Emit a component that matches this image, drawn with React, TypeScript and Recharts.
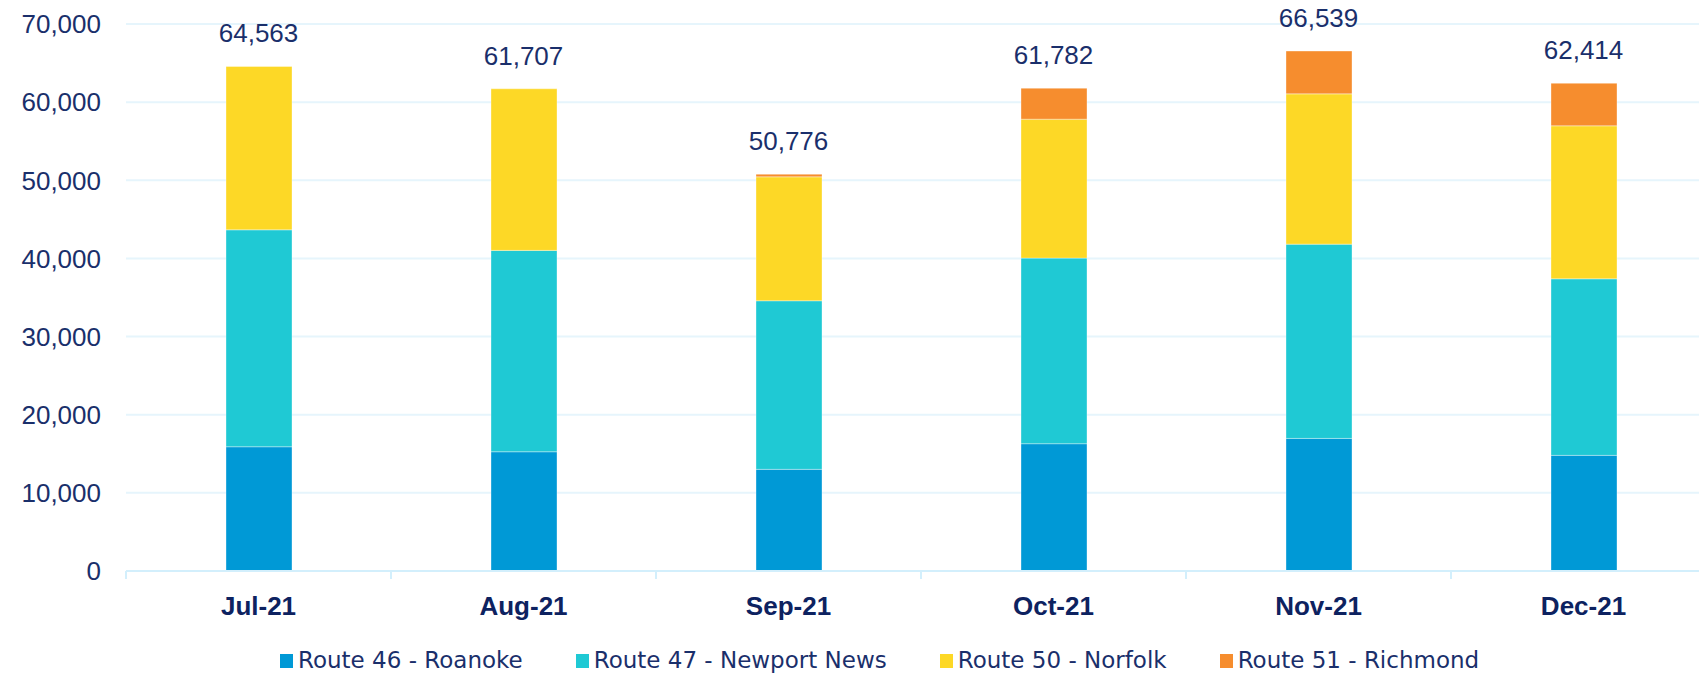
import React from 'react';
import { ComposedChart, Bar, Line, XAxis, YAxis, CartesianGrid, LabelList } from 'recharts';

const months = ['Jul-21', 'Aug-21', 'Sep-21', 'Oct-21', 'Nov-21', 'Dec-21'];
const route46 = [15900, 15260, 13010, 16290, 16970, 14800];
const route47 = [27760, 25770, 21570, 23750, 24860, 22590];
const route50 = [20903, 20677, 15860, 17780, 19230, 19580];
const route51 = [0, 0, 336, 3962, 5479, 5444];
const totals = [64563, 61707, 50776, 61782, 66539, 62414];
const yTicks = [0, 10000, 20000, 30000, 40000, 50000, 60000, 70000];

const series = [
  { key: 'r46', name: 'Route 46 - Roanoke', color: '#0099d6', values: route46 },
  { key: 'r47', name: 'Route 47 - Newport News', color: '#1fc9d4', values: route47 },
  { key: 'r50', name: 'Route 50 - Norfolk', color: '#fdd826', values: route50 },
  { key: 'r51', name: 'Route 51 - Richmond', color: '#f68d2e', values: route51 },
];

const data = months.map((month, i) => {
  const row: Record<string, string | number> = { month, total: totals[i] };
  series.forEach((s) => {
    row[s.key] = s.values[i];
  });
  return row;
});

const NAVY = '#1a2f6b';
const AXIS = '#d3effc';
const NUM_FONT = "'Liberation Sans', Arial, sans-serif";

const MonthTick = (props: any) => {
  const { x, y, payload } = props;
  const half = payload && typeof payload.offset === 'number' ? payload.offset : 132.5;
  const axisY = y - 26;
  return (
    <g>
      <line x1={x - half} x2={x - half} y1={axisY} y2={axisY + 8} stroke={AXIS} strokeWidth={2} />
      <text x={x} y={axisY + 44} textAnchor="middle" fill="#0d2260" fontSize={26} fontWeight={700} fontFamily={NUM_FONT}>
        {payload.value}
      </text>
    </g>
  );
};

export default function App() {
  return (
    <div style={{ position: 'relative', width: 1699, height: 674, overflow: 'hidden', background: '#fff' }}>
      <style>{`body { margin: 0; overflow: hidden; }`}</style>
      <ComposedChart width={1720} height={674} data={data} margin={{ top: 24, right: 4, bottom: 0, left: 0 }}>
        <CartesianGrid vertical={false} stroke="#e6f5fc" strokeWidth={2} />
        <XAxis
          dataKey="month"
          height={103}
          axisLine={{ stroke: AXIS, strokeWidth: 2 }}
          tickLine={false}
          tickSize={8}
          tickMargin={18}
          tick={<MonthTick />}
          interval={0}
        />
        <YAxis
          width={126}
          domain={[0, 70000]}
          ticks={yTicks}
          axisLine={false}
          tickLine={false}
          tickSize={0}
          tickMargin={25}
          tickFormatter={(v: number) => v.toLocaleString('en-US')}
          tick={{ fill: NAVY, fontSize: 26, fontFamily: NUM_FONT }}
        />
        {series.map((s) => (
          <Bar
            key={s.key}
            dataKey={s.key}
            name={s.name}
            stackId="a"
            fill={s.color}
            barSize={66}
            stroke="rgba(255,255,255,0.35)"
            strokeWidth={1}
            isAnimationActive={false}
          />
        ))}
        {/* invisible line carrying the total labels above each stack */}
        <Line
          dataKey="total"
          stroke="none"
          dot={false}
          activeDot={false}
          legendType="none"
          isAnimationActive={false}
        >
          <LabelList
            dataKey="total"
            position="top"
            offset={24}
            formatter={(v: any) => Number(v).toLocaleString('en-US')}
            fill={NAVY}
            fontSize={26}
            fontFamily={NUM_FONT}
          />
        </Line>
      </ComposedChart>
      <div
        style={{
          position: 'absolute',
          top: 649,
          left: 280,
          display: 'flex',
          alignItems: 'flex-start',
          gap: 53,
          fontFamily: "'DejaVu Sans', sans-serif",
          fontSize: 23,
          lineHeight: 1,
          color: NAVY,
          whiteSpace: 'nowrap',
        }}
      >
        {series.map((s) => (
          <div key={s.key} style={{ display: 'flex', alignItems: 'flex-start' }}>
            <span style={{ width: 13, height: 14, marginTop: 5, marginRight: 5, background: s.color, display: 'inline-block' }} />
            <span>{s.name}</span>
          </div>
        ))}
      </div>
    </div>
  );
}
